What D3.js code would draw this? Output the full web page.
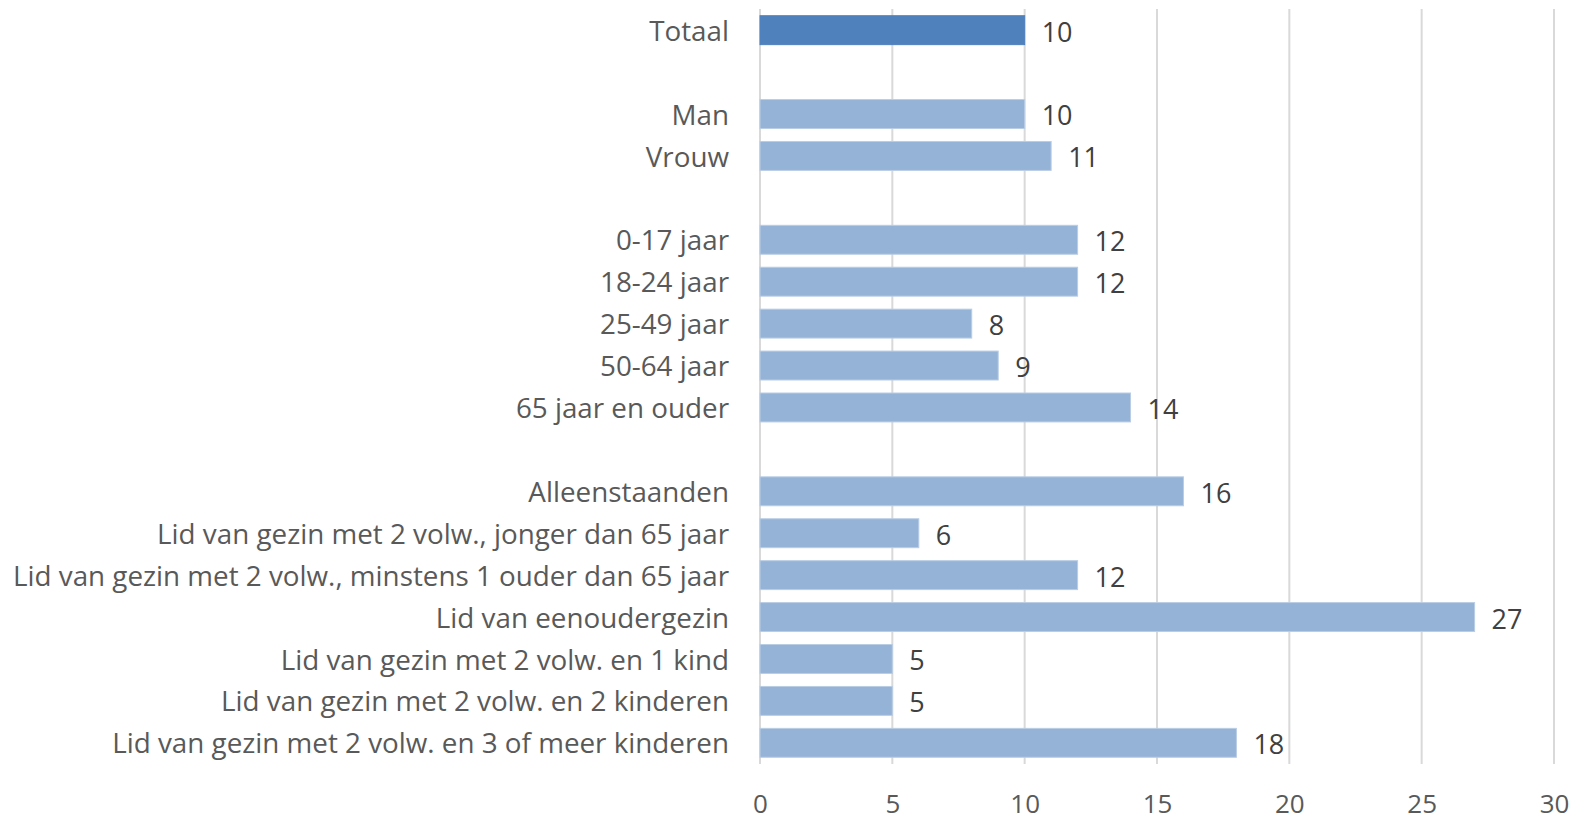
<!doctype html>
<html lang="nl">
<head>
  <meta charset="UTF-8">
  <title>Armoederisico</title>
  <script src="https://cdn.jsdelivr.net/npm/d3@7"></script>
  <style>
    body { margin: 0; background: #fff; }
    text { font-family: "Open Sans", sans-serif; }
  </style>
</head>
<body>
<svg width="1577" height="822" id="chart"></svg>
<script>
  // rows from top to bottom, empty string = gap row
  var categories = [
    'Totaal', '',
    'Man', 'Vrouw', '',
    '0-17 jaar', '18-24 jaar', '25-49 jaar', '50-64 jaar', '65 jaar en ouder', '',
    'Alleenstaanden',
    'Lid van gezin met 2 volw., jonger dan 65 jaar',
    'Lid van gezin met 2 volw., minstens 1 ouder dan 65 jaar',
    'Lid van eenoudergezin',
    'Lid van gezin met 2 volw. en 1 kind',
    'Lid van gezin met 2 volw. en 2 kinderen',
    'Lid van gezin met 2 volw. en 3 of meer kinderen'
  ];
  var values = [10, null, 10, 11, null, 12, 12, 8, 9, 14, null, 16, 6, 12, 27, 5, 5, 18];
  var xTicks = [0, 5, 10, 15, 20, 25, 30];

  var data = categories.map(function (c, i) {
    return {key: i, label: c, value: values[i]};
  });

  var svg = d3.select('#chart'),
    margin = {top: 9, right: 23, bottom: 58, left: 760},
    width = +svg.attr('width') - margin.left - margin.right,
    height = +svg.attr('height') - margin.top - margin.bottom;

  var x = d3.scaleLinear().domain([0, 30]).range([0, width]),
    y = d3.scaleBand().domain(data.map(function (d) { return d.key; }))
      .range([0, height]).paddingInner(0.31).paddingOuter(0.16);

  var g = svg.append('g').attr('transform', 'translate(' + margin.left + ',' + margin.top + ')');

  // gridlines
  g.selectAll('.grid').data(xTicks).enter().append('line')
    .attr('x1', function (d) { return x(d); })
    .attr('x2', function (d) { return x(d); })
    .attr('y1', 0)
    .attr('y2', height)
    .attr('stroke', '#d9d9d9')
    .attr('stroke-width', 2);

  // x axis labels
  var xAxis = g.append('g')
    .attr('transform', 'translate(0,' + height + ')')
    .call(d3.axisBottom(x).tickValues(xTicks).tickSize(0).tickPadding(31));
  xAxis.select('.domain').remove();
  xAxis.selectAll('text')
    .attr('font-size', 26)
    .attr('fill', '#595959')
    .style('font-family', '"Open Sans", sans-serif');

  // category labels
  var yAxis = g.append('g')
    .call(d3.axisLeft(y).tickSize(0).tickPadding(31).tickFormat(function (k) { return categories[k]; }));
  yAxis.select('.domain').remove();
  yAxis.selectAll('text')
    .attr('font-size', 27.8)
    .attr('dy', '0.38em')
    .attr('fill', '#595959')
    .style('font-family', '"Open Sans", sans-serif');

  var rows = data.filter(function (d) { return d.value !== null; });

  g.selectAll('.bar').data(rows).enter().append('rect').attr('class', 'bar')
    .attr('x', 0)
    .attr('y', function (d) { return y(d.key); })
    .attr('width', function (d) { return x(d.value); })
    .attr('height', y.bandwidth())
    .attr('fill', function (d) { return d.key === 0 ? '#4f81bd' : '#95b3d7'; })
    .attr('stroke', function (d) { return d.key === 0 ? '#4f81bd' : '#b9cde5'; })
    .attr('stroke-width', 1);

  g.selectAll('.val').data(rows).enter().append('text').attr('class', 'val')
    .attr('x', function (d) { return x(d.value) + 17; })
    .attr('y', function (d) { return y(d.key) + y.bandwidth() / 2 + 2; })
    .attr('dy', '0.35em')
    .attr('font-size', 27)
    .attr('fill', '#404040')
    .text(function (d) { return d.value; });
</script>
</body>
</html>
